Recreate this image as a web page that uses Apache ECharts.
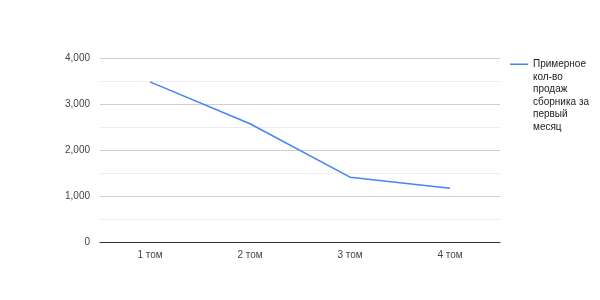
<!DOCTYPE html>
<html><head><meta charset="utf-8">
<script src="https://cdn.jsdelivr.net/npm/echarts@6/dist/echarts.min.js"></script>
<style>html,body{margin:0;padding:0;background:#fff}#c{width:600px;height:300px}</style>
</head><body><div id="c"></div>
<script>
const categories = ['1 том', '2 том', '3 том', '4 том'];
const sales = [3480, 2570, 1410, 1170];
const seriesName = 'Примерное кол-во продаж сборника за первый месяц';
const legendLines = ['Примерное', 'кол-во', 'продаж', 'сборника за', 'первый', 'месяц'];
const yTicks = [0, 1000, 2000, 3000, 4000];

const chart = echarts.init(document.getElementById('c'), null, {renderer: 'canvas'});
chart.setOption({
  animation: false,
  textStyle: {fontFamily: 'Liberation Sans, Arial, sans-serif'},
  grid: {left: 100, right: 100, top: 58, bottom: 58},
  legend: {
    orient: 'vertical',
    left: 510, top: 58,
    padding: 0,
    icon: 'path://M0,0L0,0Z M0,5.5L18,5.5L18,7L0,7Z M0,75L0,75Z',
    itemWidth: 18, itemHeight: 75, itemGap: 5,
    data: [seriesName],
    formatter: () => legendLines.join('\n'),
    textStyle: {fontSize: 10, color: '#222', lineHeight: 12.5}
  },
  xAxis: {
    type: 'category', data: categories, boundaryGap: true,
    axisLine: {lineStyle: {color: '#333', width: 1}},
    axisTick: {show: false},
    axisLabel: {color: '#444', fontSize: 10, margin: 8}
  },
  yAxis: {
    type: 'value', min: yTicks[0], max: yTicks[yTicks.length - 1], interval: 1000,
    axisLine: {show: false}, axisTick: {show: false},
    axisLabel: {color: '#444', fontSize: 10, margin: 10,
      formatter: v => v.toLocaleString('en-US')},
    splitLine: {lineStyle: {color: '#d0d0d0', width: 1}},
    minorTick: {show: false, splitNumber: 2},
    minorSplitLine: {show: true, lineStyle: {color: '#ececec', width: 1}}
  },
  series: [{
    name: seriesName, type: 'line', data: sales,
    symbol: 'none', smooth: false,
    lineStyle: {color: '#4285f4', width: 1.5},
    itemStyle: {color: '#4285f4'}
  }]
});
</script></body></html>
